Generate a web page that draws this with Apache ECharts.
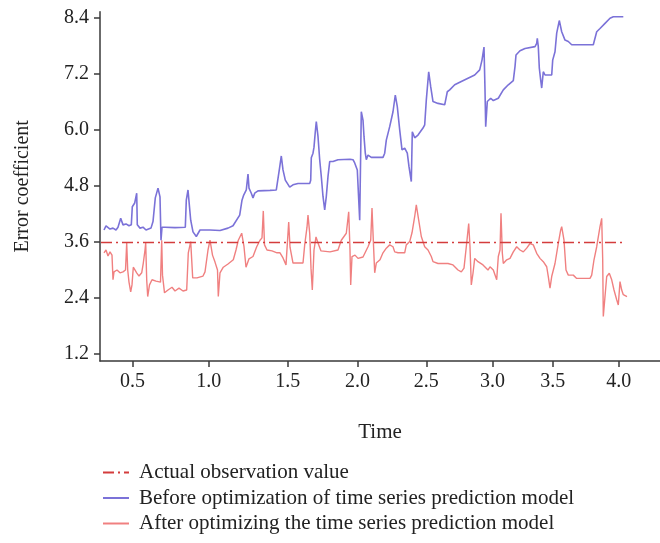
<!DOCTYPE html>
<html>
<head>
<meta charset="utf-8">
<script src="https://cdn.jsdelivr.net/npm/echarts@6/dist/echarts.min.js"></script>
<style>html,body{margin:0;padding:0;background:#fff}#c{width:660px;height:543px}</style>
</head>
<body>
<div id="c"></div>
<script>
// x is the sample index of the time series; tick labels sit at given sample indices
const xTickIndex = [32.6, 108.8, 187.8, 257.5, 326.3, 392.5, 452.7, 518.7];
const xTickLabels = ['0.5', '1.0', '1.5', '2.0', '2.5', '3.0', '3.5', '4.0'];
const yTicks = [1.2, 2.4, 3.6, 4.8, 6.0, 7.2, 8.4];
const yTickLabels = ['1.2', '2.4', '3.6', '4.8', '6.0', '7.2', '8.4'];

const seriesNames = [
  'Actual observation value',
  'Before optimization of time series prediction model',
  'After optimizing the time series prediction model'
];

const actualValue = 3.58;
const actualRange = [1, 525];

const beforeData = [[4,3.85],[6,3.94],[8,3.91],[10,3.87],[13,3.89],[16,3.85],[18,3.91],[20.7,4.10],[23,3.96],[26,3.98],[29,3.94],[31.3,3.96],[32.3,4.35],[34.7,4.43],[36.7,4.64],[37.3,3.96],[40,3.89],[43,3.91],[46,3.85],[51,3.89],[53,4.03],[55.3,4.54],[58,4.75],[60,4.56],[61,3.63],[62,3.91],[65,3.91],[75,3.90],[85.3,3.91],[86.3,4.49],[88,4.71],[90.7,4.06],[93,3.81],[96.3,3.71],[100,3.85],[110,3.85],[120,3.84],[128,3.89],[133,3.94],[134.7,3.96],[139.7,4.17],[142,4.49],[143.7,4.60],[146.3,4.71],[148,5.05],[149,4.75],[151.3,4.64],[153,4.54],[154.7,4.64],[158,4.69],[170,4.70],[176.3,4.71],[178,4.75],[179.7,5.20],[181.3,5.44],[183,5.14],[185.3,4.92],[189.7,4.77],[193,4.82],[198,4.85],[209.7,4.85],[210.7,4.92],[211.3,5.40],[213,5.50],[214,5.63],[215.3,5.96],[216.3,6.18],[218,5.86],[219.7,5.36],[221.3,5.00],[223,4.57],[224.7,4.28],[226.3,4.57],[228,5.00],[229.7,5.32],[233,5.32],[238,5.36],[250,5.37],[253,5.36],[254.7,5.29],[257.3,5.14],[258.7,5.10],[259.7,4.06],[261.3,6.39],[263,6.21],[264,5.86],[265.3,5.50],[266.3,5.36],[268,5.46],[271.3,5.41],[283,5.41],[284.7,5.50],[286.3,5.78],[289.7,6.07],[293,6.39],[295.3,6.75],[297.3,6.50],[299.7,6.00],[302,5.57],[304.7,5.61],[307.3,5.50],[309,5.21],[311.3,4.89],[312.3,5.96],[314.7,5.83],[318,5.89],[323,6.04],[324.7,6.11],[326.3,6.64],[328.7,7.25],[330.7,6.93],[333,6.61],[338,6.57],[344.7,6.54],[347.3,6.82],[349.7,6.86],[354.7,6.97],[361.3,7.04],[368,7.11],[374.7,7.18],[379.7,7.29],[382,7.50],[384,7.78],[385,6.86],[385.7,6.07],[387.3,6.61],[389,6.57],[390.7,6.68],[393.3,6.63],[398.3,6.68],[403.3,6.86],[408.3,6.97],[413.3,7.06],[415,7.36],[416,7.61],[420,7.70],[425,7.75],[435,7.79],[436.7,7.86],[437.3,7.97],[438.3,7.79],[439.3,7.33],[440.7,7.07],[441.7,6.90],[443.3,7.25],[445,7.18],[451.7,7.18],[452.7,7.50],[455,7.68],[456.7,8.08],[459.3,8.35],[461.7,8.11],[465,7.93],[468.3,7.90],[471.7,7.83],[476.7,7.83],[493.3,7.83],[495,7.86],[496.7,8.11],[500,8.18],[505,8.29],[510,8.40],[513.3,8.43],[523.3,8.43]];

const afterData = [[4,3.36],[6,3.42],[8,3.29],[10,3.38],[12,3.31],[13,2.78],[14,2.95],[17,2.99],[20,2.93],[23,2.95],[25.5,2.99],[26.7,3.57],[27.7,2.99],[29,2.73],[30.7,2.52],[32,2.67],[33.3,3.05],[36.7,2.93],[39,2.86],[41.7,2.93],[43.3,3.14],[45,3.42],[45.7,3.57],[46.7,2.78],[47.7,2.42],[49.5,2.67],[52,2.78],[56,2.75],[60.5,2.73],[61.7,3.63],[62.5,2.88],[64.5,2.50],[68,2.56],[72,2.62],[75,2.54],[79,2.60],[83,2.54],[86.7,2.56],[88.3,3.36],[90.7,3.60],[92.7,2.82],[97,2.82],[103,2.86],[105,2.95],[108,3.42],[110,3.63],[112.5,3.31],[115,3.16],[117.5,2.99],[118.3,2.42],[120,2.93],[123.3,3.05],[128,3.12],[133.3,3.21],[136,3.42],[138.3,3.63],[141.7,3.78],[144,3.49],[146,3.05],[149,3.23],[153,3.28],[156.7,3.49],[160,3.63],[162,3.68],[163.3,4.26],[164.5,3.53],[167,3.42],[172,3.40],[177,3.36],[180,3.36],[183,3.25],[186,3.10],[188.7,4.02],[190,3.48],[193,3.14],[198,3.14],[203,3.14],[204.7,3.53],[207,3.91],[208,4.17],[209.7,3.78],[211,3.03],[212.3,2.56],[214,3.42],[216,3.70],[218,3.57],[221,3.40],[230,3.38],[238,3.42],[241.3,3.63],[246.3,3.78],[248.7,4.24],[250,3.42],[250.7,2.67],[252,3.28],[255,3.31],[258,3.24],[263,3.27],[268,3.49],[270.7,3.63],[272,4.32],[273.3,3.63],[274.7,2.93],[276.3,3.14],[280,3.21],[283,3.36],[286.3,3.46],[289.7,3.53],[293,3.49],[294.7,3.38],[298,3.36],[304.7,3.36],[306.3,3.53],[309.7,3.60],[312,3.79],[314.7,4.14],[316.3,4.39],[318.7,4.06],[321.3,3.71],[324.7,3.49],[328,3.42],[331.3,3.28],[333,3.17],[338,3.13],[348,3.13],[353,3.10],[358,2.99],[361.3,2.95],[364,3.03],[366.3,3.49],[368.7,3.99],[370,3.49],[371.3,2.67],[373,2.92],[374.7,3.24],[378,3.17],[383,3.10],[388,2.99],[390,3.06],[393.3,2.99],[396.7,2.78],[398.3,3.28],[400,3.42],[401,4.21],[402.3,3.36],[403.3,3.13],[406.7,3.21],[410,3.24],[413.3,3.38],[416.7,3.49],[420,3.42],[423.3,3.38],[426.7,3.46],[430,3.56],[433.3,3.53],[436.7,3.35],[440,3.24],[443.3,3.17],[446.7,3.06],[448.3,2.85],[450,2.60],[451.7,2.85],[455,3.13],[458.3,3.56],[460.7,3.85],[461.7,3.92],[464,3.63],[466,2.99],[468.3,2.88],[473.3,2.88],[476.7,2.81],[490,2.81],[491.7,2.88],[494,3.21],[496.7,3.49],[500,3.92],[501.7,4.10],[502.7,3.21],[503.3,1.99],[505,2.42],[506.7,2.85],[509.3,2.92],[511.7,2.78],[514,2.56],[516.7,2.35],[518.3,2.24],[520,2.74],[521.7,2.56],[523.3,2.46],[527,2.42]];

const actualData = actualRange.map(function (x) { return [x, actualValue]; });

const FONT = 'Liberation Serif';
const FS = 20;
const chart = echarts.init(document.getElementById('c'), null, { renderer: 'canvas' });
chart.setOption({
  animation: false,
  backgroundColor: '#ffffff',
  grid: { left: 100, right: 0, top: 11.7, bottom: 182, containLabel: false },
  legend: {
    orient: 'vertical',
    left: 102,
    top: 462,
    padding: 0,
    itemWidth: 26,
    itemHeight: 10,
    itemGap: 4.5,
    data: seriesNames,
    itemStyle: { opacity: 0, borderWidth: 0 },
    textStyle: { fontFamily: FONT, fontSize: 21, color: '#222', padding: [0, 0, 0, 5] }
  },
  xAxis: {
    type: 'value',
    min: 0,
    max: 560,
    name: 'Time',
    nameLocation: 'middle',
    nameGap: 61,
    nameTextStyle: { fontFamily: FONT, fontSize: 21, color: '#222' },
    axisLine: { show: true, lineStyle: { color: '#3a3a3a', width: 1.5 } },
    axisTick: { show: true, length: 6, inside: false, customValues: xTickIndex, lineStyle: { color: '#3a3a3a', width: 1.5 } },
    axisLabel: {
      customValues: xTickIndex,
      margin: 11,
      fontFamily: FONT, fontSize: FS, color: '#222',
      formatter: function (v) {
        for (let i = 0; i < xTickIndex.length; i++) {
          if (Math.abs(xTickIndex[i] - v) < 1e-6) return xTickLabels[i];
        }
        return '';
      }
    },
    splitLine: { show: false }
  },
  yAxis: {
    type: 'value',
    min: 1.035,
    max: 8.54,
    name: 'Error coefficient',
    nameLocation: 'middle',
    nameGap: 67,
    nameTextStyle: { fontFamily: FONT, fontSize: FS, color: '#222' },
    axisLine: { show: true, lineStyle: { color: '#3a3a3a', width: 1.5 } },
    axisTick: { show: true, length: 6, customValues: yTicks, lineStyle: { color: '#3a3a3a', width: 1.5 } },
    axisLabel: {
      customValues: yTicks,
      margin: 11,
      fontFamily: FONT, fontSize: FS, color: '#222',
      formatter: function (v) {
        for (let i = 0; i < yTicks.length; i++) {
          if (Math.abs(yTicks[i] - v) < 1e-6) return yTickLabels[i];
        }
        return '';
      }
    },
    splitLine: { show: false }
  },
  series: [
    {
      name: seriesNames[2], type: 'line', data: afterData, symbol: 'none', z: 2,
      lineStyle: { color: '#f08080', width: 1.4 }, itemStyle: { color: '#f08080' }
    },
    {
      name: seriesNames[1], type: 'line', data: beforeData, symbol: 'none', z: 3,
      lineStyle: { color: '#7b72d8', width: 1.6 }, itemStyle: { color: '#7b72d8' }
    },
    {
      name: seriesNames[0], type: 'line', data: actualData, symbol: 'none', z: 4,
      lineStyle: { color: '#d43c3c', width: 1.4, type: [11, 4, 2, 4] }, itemStyle: { color: '#d43c3c' }
    }
  ]
});
</script>
</body>
</html>
